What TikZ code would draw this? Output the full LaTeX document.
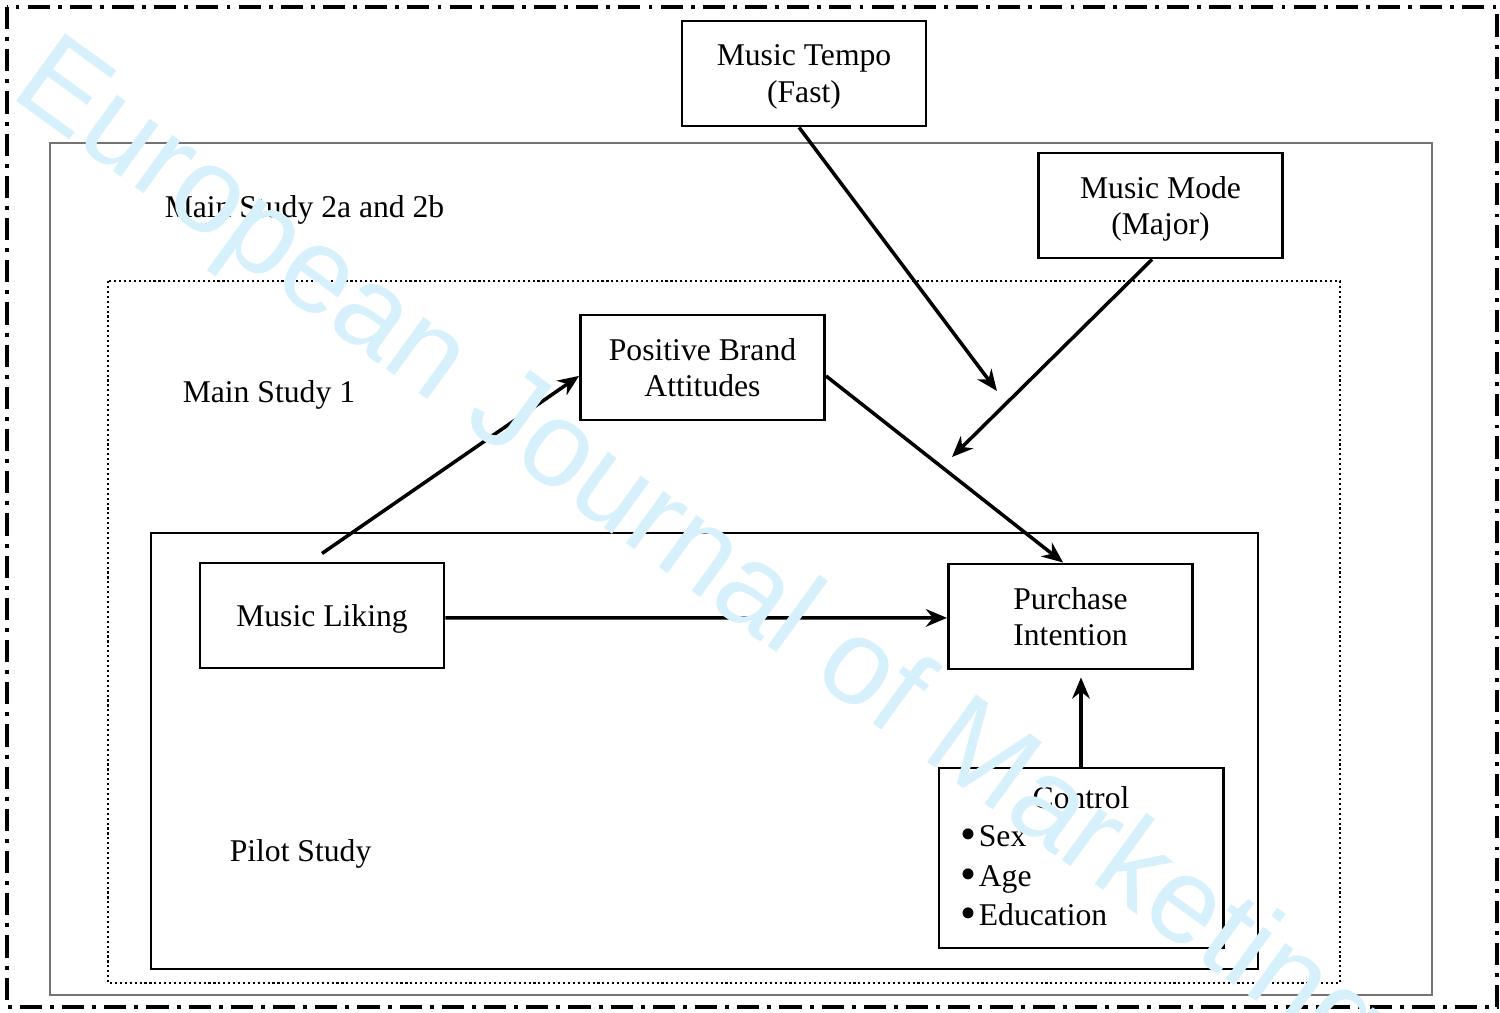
\documentclass[tikz,border=0pt]{standalone}
\usepackage{fontspec}
\setmainfont{Liberation Serif}
\newfontfamily\wmfont{Liberation Sans}
\usepackage{tikz}
\usetikzlibrary{arrows.meta}

\definecolor{wmblue}{RGB}{214,240,252}
\definecolor{framegray}{RGB}{115,115,115}

\newcommand{\ctlbullet}{\raisebox{-1pt}{\fontsize{13}{13}\selectfont\textbullet}}

\begin{document}
\begin{tikzpicture}[x=0.01cm,y=-0.01cm,->,>={Stealth[length=6pt,width=5pt]},
                    line width=1pt,font=\fontsize{9}{10.4}\selectfont]

  \tikzstyle{box}=[rectangle,draw,line width=0.8pt,align=center,
                   minimum width=2.44cm,minimum height=1.05cm,inner sep=0pt,
                   text depth=-1.3pt]
  \tikzstyle{frame}=[-,line width=0.8pt]
  \tikzstyle{caption}=[anchor=base west,inner sep=0pt]

  \useasboundingbox (0,0) rectangle (1500,1013);

  % study frames
  \draw[frame,line width=1.1pt,dash pattern=on 6.3pt off 2.3pt on 1.1pt off 2.3pt]
       (7,7) rectangle (1497,1007);
  \draw[frame,draw=framegray] (50,143) rectangle (1432,995);
  \draw[frame,line width=0.75pt,dash pattern=on 0.6pt off 0.8pt] (108,281) rectangle (1340,983);
  \draw[frame] (151,533) rectangle (1258,969);

  \node[caption] (MS2) at (163,218) {Main Study 2a and 2b};
  \node[caption] (MS1) at (181,403) {Main Study 1};
  \node[caption] (PS)  at (228,861) {Pilot Study};

  % variables
  \node[box] (MT)  at (804,73.5)    {Music Tempo\\(Fast)};
  \node[box] (MM)  at (1160.5,205.5) {Music Mode\\(Major)};
  \node[box] (PBA) at (702.5,367.5) {Positive Brand\\Attitudes};
  \node[box] (ML)  at (322,615.5)   {Music Liking};
  \node[box] (PI)  at (1070.5,616.5) {Purchase\\Intention};

  \node[box,minimum width=2.84cm,minimum height=1.8cm] (CT) at (1081,858) {};
  \node[caption,anchor=base] (CT-title) at (1081,808) {Control};
  \foreach \y/\t in {846/Sex,886/Age,925/Education}
    \node[caption] (CT-\t) at (959,\y) {\ctlbullet\hspace{0.6pt}\t};

  \coordinate (tempoEnd) at (997,391);
  \coordinate (modeEnd)  at (952,457);

  \path ([yshift=2.3pt]ML.north) edge ([yshift=-2.4pt]PBA.west)
        ([yshift=-2.4pt]PBA.east) edge ([xshift=-2.1pt]PI.north)
        ([yshift=-0.7pt]ML.east) edge ([yshift=-0.4pt]PI.west)
        (CT.north) edge ([yshift=-2pt]PI.south -| CT.north)
        ([xshift=-1.4pt]MT.south) edge (tempoEnd)
        ([xshift=-2.4pt]MM.south) edge (modeEnd);

  % watermark
  \node[anchor=base west,inner sep=0pt,rotate=-36,text=wmblue,
        font=\wmfont\fontsize{34.5}{40}\selectfont] (WM) at (7,94)
        {European Journal of Marketing};
\end{tikzpicture}
\end{document}
